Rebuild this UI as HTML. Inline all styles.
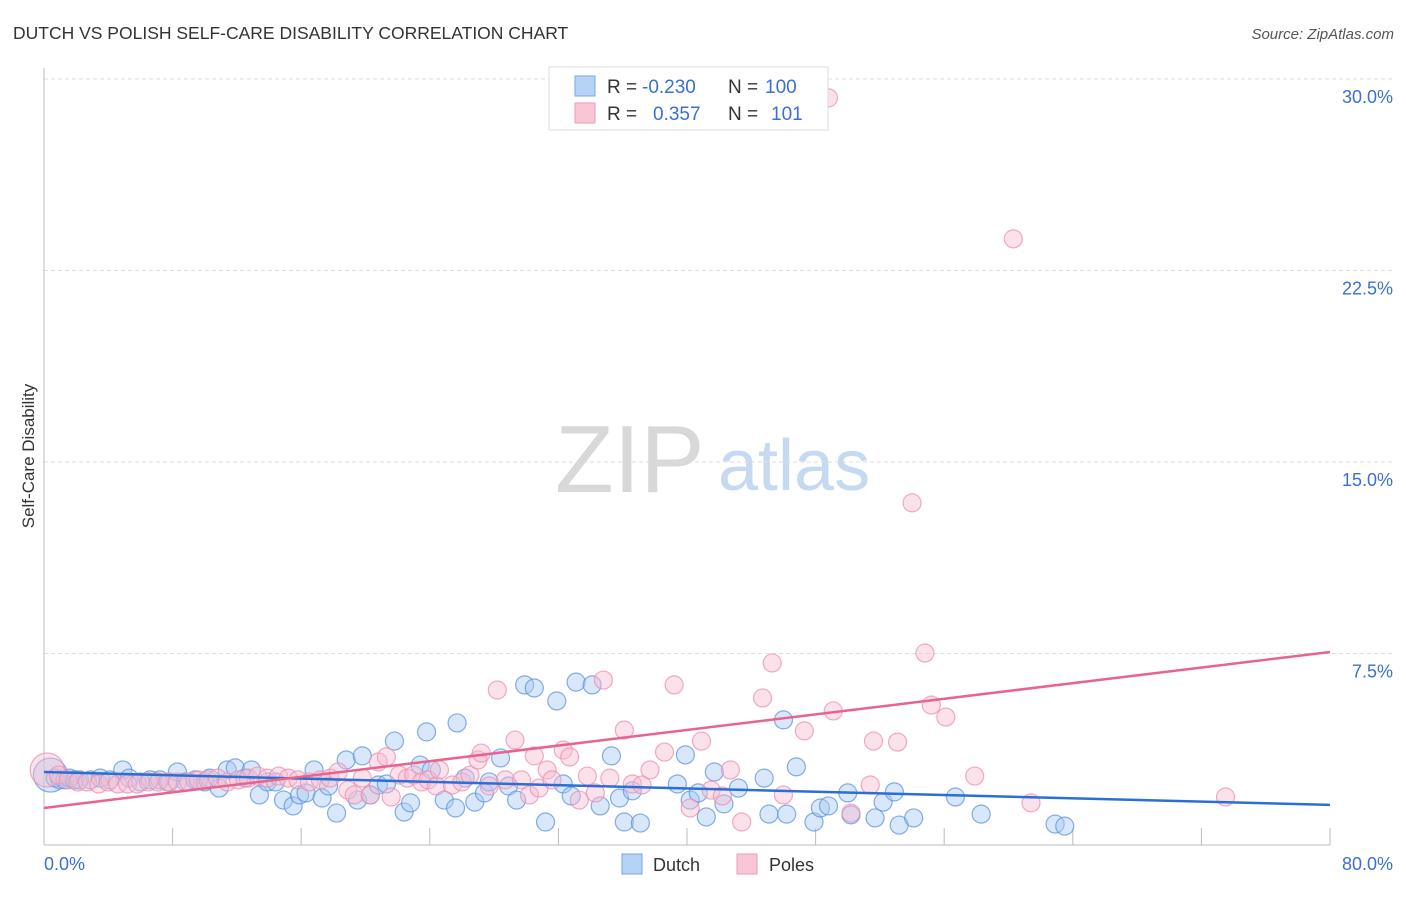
<!DOCTYPE html>
<html><head><meta charset="utf-8"><style>
body{margin:0;background:#fff;font-family:"Liberation Sans",sans-serif;}
svg text{font-family:"Liberation Sans",sans-serif;}
</style></head><body>
<svg id="chart" width="1406" height="892" viewBox="0 0 1406 892" xmlns="http://www.w3.org/2000/svg">
<text x="13" y="39" font-size="17.5" fill="#333">DUTCH VS POLISH SELF-CARE DISABILITY CORRELATION CHART</text>
<text x="1394" y="39" font-size="15" fill="#555" text-anchor="end" font-style="italic">Source: ZipAtlas.com</text>
<g>
<text x="555" y="492" font-size="96" font-family="Liberation Serif,serif" fill="#d8d8d8">ZIP</text>
<text x="718" y="490" font-size="72" fill="#c5d9f0">atlas</text>
</g>
<g id="grid"></g>
<g id="axes"></g>
<g id="pts"></g>
<g id="trends"></g>
<text transform="translate(34,456) rotate(-90)" font-size="17" fill="#333" text-anchor="middle">Self-Care Disability</text>
<text x="44" y="870" font-size="18" fill="#3b6fd4">0.0%</text>
<text x="1393" y="870" font-size="18" fill="#3b6fd4" text-anchor="end">80.0%</text>
<g>
<rect x="549" y="67" width="279" height="63" fill="#fff" stroke="#ddd"/>
<rect x="575" y="76" width="20" height="20" fill="#b6d2f5" stroke="#7aa6e6"/>
<rect x="575" y="103" width="20" height="20" fill="#f9c6d6" stroke="#ef9ab6"/>
<text x="607" y="93" font-size="19" fill="#333">R = </text>
<text x="642" y="93" font-size="19" fill="#3b6fd4">-0.230</text>
<text x="728" y="93" font-size="19" fill="#333">N = </text>
<text x="765" y="93" font-size="19" fill="#3b6fd4">100</text>
<text x="607" y="120" font-size="19" fill="#333">R = </text>
<text x="653" y="120" font-size="19" fill="#3b6fd4">0.357</text>
<text x="728" y="120" font-size="19" fill="#333">N = </text>
<text x="771" y="120" font-size="19" fill="#3b6fd4">101</text>
</g>
<g>
<rect x="622" y="854" width="20" height="20" fill="#b6d2f5" stroke="#7aa6e6"/>
<text x="653" y="871" font-size="18" fill="#333">Dutch</text>
<rect x="737" y="854" width="20" height="20" fill="#f9c6d6" stroke="#ef9ab6"/>
<text x="769" y="871" font-size="18" fill="#333">Poles</text>
</g>
</svg>
<script>
const yTicks=[7.5,15,22.5,30];
const yTickLabels=["7.5%","15.0%","22.5%","30.0%"];
const xTicks=[8,16,24,32,40,48,56,64,72,80];
const dutchX=[0.4,0.7,1.0,1.3,1.6,1.9,2.2,2.9,3.5,4.1,4.9,5.3,6.0,6.6,7.2,7.8,8.3,8.8,9.4,10.0,10.3,10.9,11.4,11.9,12.5,12.9,13.4,13.9,14.4,14.9,15.5,15.9,16.3,16.8,17.3,17.7,18.2,18.8,19.5,19.8,20.3,20.8,21.3,21.8,22.4,22.8,23.4,23.8,24.1,24.9,25.6,25.7,26.2,26.8,27.4,27.7,28.4,28.9,29.4,29.9,30.5,31.2,31.9,32.3,32.8,33.1,34.1,34.6,35.3,35.8,36.1,36.6,37.1,39.4,39.9,40.2,40.7,41.2,41.7,42.3,43.2,44.8,45.1,46.0,46.2,46.8,47.9,48.3,48.8,50.0,50.2,51.7,52.2,52.9,53.2,54.1,56.7,58.3,62.9,63.5];
const dutchY=[2.74,2.62,2.55,2.55,2.62,2.55,2.55,2.55,2.62,2.55,2.94,2.62,2.47,2.55,2.55,2.47,2.86,2.47,2.55,2.47,2.62,2.23,2.94,3.02,2.62,2.94,1.96,2.47,2.47,1.76,1.53,1.96,2.04,2.94,1.84,2.31,1.25,3.33,1.76,3.49,1.96,2.35,2.39,4.07,1.29,1.65,3.13,4.43,2.94,1.76,1.45,4.78,2.62,1.68,2.04,2.47,3.41,2.31,1.76,6.27,6.15,0.90,5.64,2.39,1.92,6.38,6.27,1.53,3.49,1.84,0.90,2.12,0.86,2.39,3.53,1.76,2.04,1.10,2.86,1.61,2.23,2.62,1.21,4.90,1.21,3.06,0.90,1.45,1.53,2.04,1.18,1.06,1.68,2.08,0.78,1.06,1.88,1.21,0.82,0.74];
const polesX=[0.2,0.9,1.5,2.1,2.7,3.4,4.0,4.6,5.2,5.8,6.5,7.1,7.7,8.3,9.0,9.6,10.2,10.8,11.4,12.1,12.7,13.3,13.9,14.6,15.2,15.8,16.5,17.2,17.8,18.3,18.9,19.3,19.8,20.3,20.8,21.3,21.6,22.1,22.6,23.0,23.5,23.9,24.4,24.6,25.4,26.0,26.5,27.0,27.2,27.7,28.2,28.7,29.3,29.7,30.2,30.5,30.8,31.3,31.6,32.3,32.7,33.3,33.8,34.3,34.8,35.2,36.1,36.6,37.2,37.7,38.6,39.2,40.2,40.9,41.5,42.2,42.7,43.4,44.7,45.3,46.0,47.3,48.8,49.1,50.2,51.4,51.6,53.1,54.0,54.8,55.2,56.1,57.9,60.3,61.4,73.5];
const polesY=[2.94,2.74,2.55,2.47,2.47,2.39,2.47,2.39,2.39,2.39,2.47,2.47,2.47,2.47,2.47,2.55,2.55,2.62,2.47,2.55,2.62,2.70,2.62,2.70,2.62,2.55,2.47,2.55,2.62,2.86,2.15,1.96,2.62,1.96,3.25,3.45,1.88,2.74,2.62,2.74,2.47,2.55,2.31,2.94,2.35,2.47,2.74,3.33,3.60,2.31,6.07,2.55,4.11,2.55,1.96,3.49,2.23,2.94,2.55,3.72,3.45,1.76,2.70,2.04,6.46,2.62,4.50,2.39,2.35,2.94,3.64,6.27,1.45,4.07,2.15,1.92,2.94,0.90,5.76,7.13,1.96,4.47,29.26,5.25,1.25,2.35,4.07,4.03,13.40,7.52,5.48,5.01,2.70,23.74,1.65,1.88];
const dutchTrend=[2.86,1.57];
const polesTrend=[1.45,7.56];
const X0=44,X1=1330,Y0=845,Y30=79;
const sx=v=>X0+(X1-X0)*v/80;
const sy=v=>Y0-(Y0-Y30)*v/30;
const NS="http://www.w3.org/2000/svg";
function mk(parent,tag,attrs){const e=document.createElementNS(NS,tag);for(const k in attrs)e.setAttribute(k,attrs[k]);document.getElementById(parent).appendChild(e);return e;}
yTicks.forEach((t,i)=>{
 const g=mk("grid","line",{x1:X0,x2:1393,y1:sy(t),y2:sy(t),stroke:"#ddd","stroke-dasharray":"4,3"});
 
 
 const l=mk("grid","text",{x:1393,y:sy(t)+24,"font-size":18,fill:"#3b6fd4","text-anchor":"end"});
 l.textContent=yTickLabels[i];
 
 
});
const ya=mk("axes","line",{x1:X0,x2:X0,y1:68,y2:Y0,stroke:"#bbb"});


const xa=mk("axes","line",{x1:X0,x2:X1,y1:Y0,y2:Y0,stroke:"#bbb"});


xTicks.forEach(t=>{
 const k=mk("axes","line",{x1:sx(t),x2:sx(t),y1:828,y2:Y0,stroke:"#bbb"});
 
 
});
function pts(xs,ys,fill,stroke,name){
 xs.forEach((x,i)=>{
  const r=i===0?17:9;
  const c=mk("pts","circle",{cx:sx(x),cy:sy(ys[i]),r:r,fill:fill,"fill-opacity":0.45,stroke:stroke,"stroke-opacity":0.75,"stroke-width":1.2});
  
  
 });
}
pts(dutchX,dutchY,"#a9c9f2","#5b93e0","dutch-point");
pts(polesX,polesY,"#f7bcd0","#ec8fb0","poles-point");
const tb=mk("trends","line",{x1:sx(0),y1:sy(dutchTrend[0]),x2:sx(80),y2:sy(dutchTrend[1]),stroke:"#2a6fd6","stroke-width":2.5});


const tp=mk("trends","line",{x1:sx(0),y1:sy(polesTrend[0]),x2:sx(80),y2:sy(polesTrend[1]),stroke:"#e8638f","stroke-width":2.5});


</script>
</body></html>
